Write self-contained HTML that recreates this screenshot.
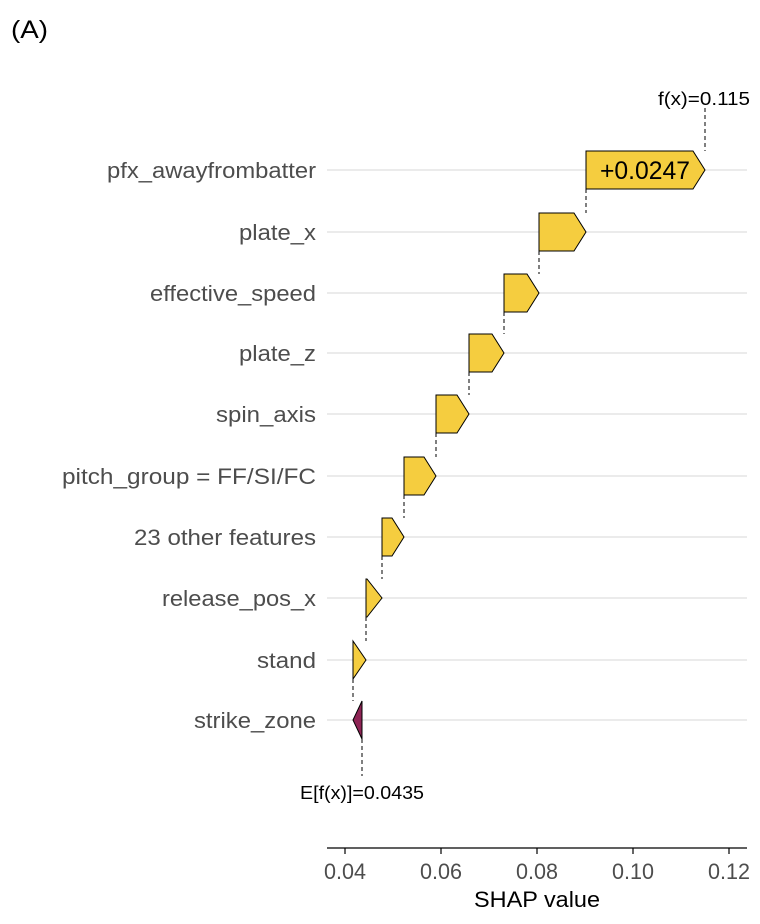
<!DOCTYPE html>
<html><head><meta charset="utf-8"><style>
body{margin:0;background:#fff;}
svg{display:block;font-family:"Liberation Sans",sans-serif;}
</style></head><body>
<svg width="760" height="924" viewBox="0 0 760 924">
<text x="11" y="38" font-size="25" fill="#000" textLength="37" lengthAdjust="spacingAndGlyphs">(A)</text>
<g stroke="#ebebeb" stroke-width="2">
<line x1="327" x2="747" y1="170" y2="170"/><line x1="327" x2="747" y1="232" y2="232"/>
<line x1="327" x2="747" y1="293" y2="293"/><line x1="327" x2="747" y1="353" y2="353"/>
<line x1="327" x2="747" y1="414" y2="414"/><line x1="327" x2="747" y1="476" y2="476"/>
<line x1="327" x2="747" y1="537" y2="537"/><line x1="327" x2="747" y1="598" y2="598"/>
<line x1="327" x2="747" y1="660" y2="660"/><line x1="327" x2="747" y1="720" y2="720"/>
</g>
<g font-size="22.5" fill="#4d4d4d" text-anchor="end">
<text x="316" y="178" textLength="209" lengthAdjust="spacingAndGlyphs">pfx_awayfrombatter</text>
<text x="316" y="240" textLength="77" lengthAdjust="spacingAndGlyphs">plate_x</text>
<text x="316" y="301" textLength="166" lengthAdjust="spacingAndGlyphs">effective_speed</text>
<text x="316" y="361" textLength="77" lengthAdjust="spacingAndGlyphs">plate_z</text>
<text x="316" y="422" textLength="100" lengthAdjust="spacingAndGlyphs">spin_axis</text>
<text x="316" y="484" textLength="254" lengthAdjust="spacingAndGlyphs">pitch_group = FF/SI/FC</text>
<text x="316" y="545" textLength="182" lengthAdjust="spacingAndGlyphs">23 other features</text>
<text x="316" y="606" textLength="154" lengthAdjust="spacingAndGlyphs">release_pos_x</text>
<text x="316" y="668" textLength="59" lengthAdjust="spacingAndGlyphs">stand</text>
<text x="316" y="728" textLength="122" lengthAdjust="spacingAndGlyphs">strike_zone</text>
</g>
<g stroke="#000" stroke-width="1" stroke-dasharray="4,3">
<line x1="705" x2="705" y1="108" y2="151"/>
<line x1="586" x2="586" y1="189" y2="213"/>
<line x1="539" x2="539" y1="251" y2="274"/>
<line x1="504" x2="504" y1="312" y2="334"/>
<line x1="469" x2="469" y1="372" y2="395"/>
<line x1="436" x2="436" y1="433" y2="457"/>
<line x1="404" x2="404" y1="495" y2="518"/>
<line x1="382" x2="382" y1="556" y2="579"/>
<line x1="366" x2="366" y1="617" y2="641"/>
<line x1="353" x2="353" y1="679" y2="701"/>
<line x1="362" x2="362" y1="739" y2="776"/>
</g>
<g fill="#f5cd3f" stroke="#000" stroke-width="1">
<polygon points="586,151 693,151 705,170 693,189 586,189"/>
<polygon points="539,213 574,213 586,232 574,251 539,251"/>
<polygon points="504,274 527,274 539,293 527,312 504,312"/>
<polygon points="469,334 492,334 504,353 492,372 469,372"/>
<polygon points="436,395 457,395 469,414 457,433 436,433"/>
<polygon points="404,457 424,457 436,476 424,495 404,495"/>
<polygon points="382,518 392,518 404,537 392,556 382,556"/>
<polygon points="366,579 367,579 382,598 367,617 366,617"/>
<polygon points="353,641 366,660 353,679"/>
</g>
<polygon points="362,701 353,720 362,739" fill="#8e2455" stroke="#000" stroke-width="1"/>
<text x="645" y="179" font-size="25" text-anchor="middle" fill="#000" textLength="90" lengthAdjust="spacingAndGlyphs">+0.0247</text>
<text x="704" y="105" font-size="18" text-anchor="middle" fill="#000" textLength="92" lengthAdjust="spacingAndGlyphs">f(x)=0.115</text>
<text x="362" y="799" font-size="18" text-anchor="middle" fill="#000" textLength="124" lengthAdjust="spacingAndGlyphs">E[f(x)]=0.0435</text>
<line x1="327" x2="747" y1="848" y2="848" stroke="#000" stroke-width="1.2"/>
<g stroke="#000" stroke-width="1.2">
<line x1="345" x2="345" y1="848" y2="854"/><line x1="441" x2="441" y1="848" y2="854"/>
<line x1="537" x2="537" y1="848" y2="854"/><line x1="633" x2="633" y1="848" y2="854"/>
<line x1="729" x2="729" y1="848" y2="854"/>
</g>
<g font-size="22" fill="#4d4d4d" text-anchor="middle">
<text x="345" y="879" textLength="42" lengthAdjust="spacingAndGlyphs">0.04</text>
<text x="441" y="879" textLength="42" lengthAdjust="spacingAndGlyphs">0.06</text>
<text x="537" y="879" textLength="42" lengthAdjust="spacingAndGlyphs">0.08</text>
<text x="633" y="879" textLength="42" lengthAdjust="spacingAndGlyphs">0.10</text>
<text x="729" y="879" textLength="42" lengthAdjust="spacingAndGlyphs">0.12</text>
</g>
<text x="537" y="907" font-size="22" text-anchor="middle" fill="#000" textLength="126" lengthAdjust="spacingAndGlyphs">SHAP value</text>
</svg>
</body></html>
